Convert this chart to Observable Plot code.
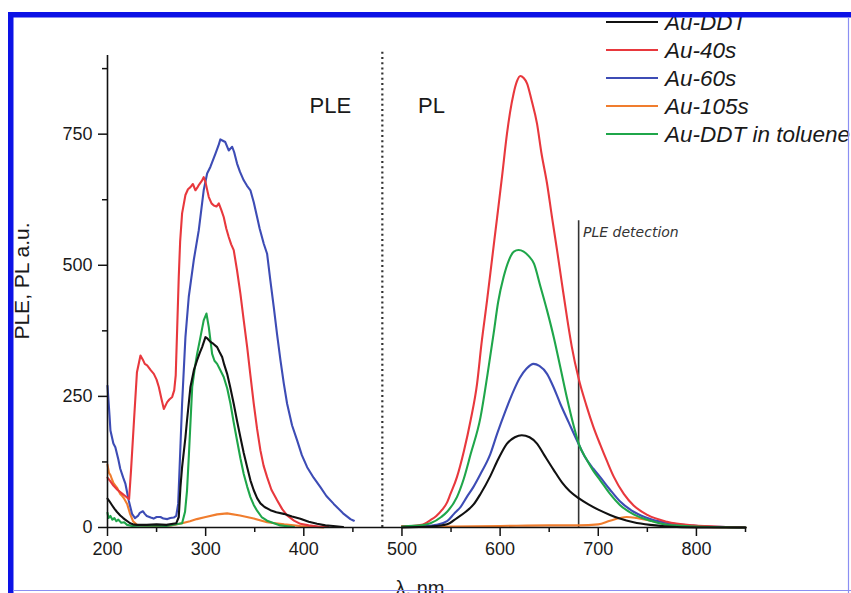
<!DOCTYPE html>
<html><head><meta charset="utf-8">
<script src="https://cdn.jsdelivr.net/npm/d3@7"></script>
<script src="https://cdn.jsdelivr.net/npm/@observablehq/plot@0.6"></script>
<style>
body{margin:0;background:#fff;}
#chart{position:relative;width:851px;height:593px;overflow:hidden;background:#fff}
</style>
</head><body><div id="chart"></div>
<script>
// ---------- categories ----------
const seriesNames = ["Au-DDT", "Au-40s", "Au-60s", "Au-105s", "Au-DDT in toluene"];
const seriesColors = ["#111111", "#e8383d", "#3d4cb5", "#f07d2e", "#1fa64a"];

// ---------- tick labels ----------
const xMajor = [200, 300, 400, 500, 600, 700, 800];
const xMinor = [250, 350, 450, 550, 650, 750, 850];
const yMajor = [0, 250, 500, 750];
const yMinor = [125, 375, 625, 875];

// ---------- series values: [wavelength nm, intensity a.u.] ----------
// PLE (excitation) spectra
const auDDT_PLE = [[200,55],[202,50],[204.8,42],[207,36],[209.5,30],[213,23],[216,18],[218,15],[221,11],[223,8],[226,6],[230,5],[240,5],[250,6],[260,5],[270,8],[272.6,20],[274.3,77],[276,115],[279.4,172],[281,204],[284.5,268],[288,300],[291.3,319],[294,333],[296.4,344],[299.8,363],[302,360],[304.9,354],[308,350],[311.7,344],[314,335],[316.8,325],[319,310],[321.9,293],[325,268],[328.6,236],[332,203],[335.4,172],[338.8,142],[342.3,115],[345.6,90],[349,71],[352.4,56],[355.8,46],[360,39],[366,33],[372,29],[379.5,26],[388,21],[396.5,16.5],[405,11],[413.5,7],[422,4],[430,3],[440,1]];
const au40_PLE = [[200,95],[203,88],[206,80],[210,72],[214,66],[218,60],[222,54],[224,110],[227,204],[230,296],[233.6,328],[236,320],[238,312],[240.4,309],[244,300],[247.2,293],[250,282],[252.3,268],[255,245],[257.4,226],[260.8,239],[263,244],[265.9,249],[268,262],[269.5,290],[271,380],[272.6,478],[274,545],[276,599],[279.4,634],[282,645],[284.5,649],[287,655],[289.6,643],[291.5,648],[293,653],[296.4,662],[298,668],[299.8,659],[302,640],[303.2,630],[306,618],[308.3,614],[311,612],[313.4,618],[316,605],[318.4,592],[321,570],[323.5,554],[326,540],[328.6,529],[332,490],[335.4,446],[338.8,395],[342.3,344],[345.6,290],[349,236],[352.4,188],[355.8,147],[359,118],[362.6,96],[367,72],[372.8,52],[378,35],[383,23],[390,13],[396.5,7],[405,4],[415,2],[425,1]];
const au60_PLE = [[200,270],[202,215],[203,185],[206,160],[208,153],[211,130],[213,112],[216,95],[218.3,83],[221.7,51],[225,26],[228,18],[231,22],[233,28],[236,31],[238,26],[240,22],[244,19],[247,17],[250,20],[254,20],[257,17],[261,16],[264,18],[267.5,19],[270,22],[272,45],[274,140],[276,236],[279.4,363],[282.8,440],[287.9,510],[293,567],[298,643],[301.5,675],[304.9,688],[310,713],[313,728],[315,740],[317,738],[320,735],[323.5,719],[327,726],[329,716],[332,694],[335,678],[338.8,662],[342,652],[345.6,643],[349,620],[352.4,592],[355,570],[359.2,541],[362.6,522],[366,470],[369.4,420],[372.8,368],[376.2,319],[379.6,275],[383,236],[388,195],[393.2,166],[398,138],[403.4,115],[410,95],[416.9,77],[423,60],[430.5,45],[440,27],[447.5,16],[451,13]];
const au105_PLE = [[200,120],[201.5,104],[203,100],[204.5,92],[206,85],[208,80],[210,75],[213,64],[215,60],[217,55],[220,45],[223,26],[226,12],[230,5],[235,4],[250,3],[265,4],[276,8],[284,12],[291,16],[300,20],[311.7,25],[321.9,27],[335,23],[349,17],[362.6,10],[380,6],[396.5,3],[420,0]];
const auTol_PLE = [[200,28],[201,18],[203,22],[205,15],[207,18],[209,12],[211,15],[214,9],[217,10],[220,5],[225,3],[240,4],[260,3],[276,8],[279,30],[281,70],[283,141],[286.3,268],[289,305],[291.3,331],[294.7,363],[298,395],[300.8,408],[303.2,382],[306.6,331],[309,318],[311.7,312],[315,300],[318.4,287],[322,265],[325.3,236],[328.6,200],[332,166],[335.4,132],[338.8,102],[342.3,78],[345.6,58],[349,43],[352.4,32],[357,20],[362.6,13],[376,4],[390,1]];

// PL (emission) spectra
const auDDT_PL = [[500,0],[530,2],[546,6],[556,18],[565,30],[573,44],[580,64],[590,98],[598,130],[607,160],[615,172],[622,176],[630,172],[637.6,160],[645,138],[654.5,110],[663,86],[671,69],[680,56],[690,44],[700,34],[712,24],[722,17],[736,10],[753,5],[770,2],[800,0],[850,0]];
const au40_PL = [[500,3],[510,3],[520,5],[529,14],[535,22],[541,34],[546,48],[549,62],[556,96],[563,145],[570,205],[576.5,274],[581,350],[586.7,433],[592,515],[597,592],[602,670],[607,751],[610,790],[613.8,828],[617,850],[620.6,861],[624,857],[627.4,847],[632,815],[637.6,770],[642,715],[647.8,656],[653,590],[658,529],[663,465],[668.1,401],[673,345],[680,284],[688,232],[695,192],[702,158],[709,126],[716,96],[726,64],[736,42],[750,24],[770,11],[797,4],[830,1],[850,0]];
const au60_PL = [[500,1],[520,2],[535,5],[546,12],[553,26],[560,40],[566,58],[573,78],[580,102],[590,140],[597,179],[605,220],[613.8,261],[620,285],[627,303],[634,312],[640,308],[647.8,293],[655,265],[661.3,236],[670,200],[678.3,166],[686,136],[695,112],[702,96],[712,72],[722,50],[736,30],[753,16],[777,7],[802,3],[830,1],[850,0]];
const au105_PL = [[500,1],[550,2],[600,3],[650,4],[680,4],[700,6],[712,13],[722,18],[729,20],[739,18],[753,13],[770,7],[785,3],[810,1],[850,0]];
const auTol_PL = [[500,2],[520,4],[529,8],[540,20],[546,30],[556,58],[563,93],[570,140],[580,210],[587,290],[593.4,370],[598,430],[603.6,478],[609,510],[614,526],[618.8,529],[624,526],[629,518],[634.5,503],[641,460],[647.8,414],[655,360],[661.3,306],[668,248],[674.8,195],[680,160],[688,130],[695,108],[702,90],[712,64],[722,43],[736,25],[753,13],[770,5],[800,2],[850,0]];

const seriesData = {
  "Au-DDT": [auDDT_PLE, auDDT_PL],
  "Au-40s": [au40_PLE, au40_PL],
  "Au-60s": [au60_PLE, au60_PL],
  "Au-105s": [au105_PLE, au105_PL],
  "Au-DDT in toluene": [auTol_PLE, auTol_PL]
};
const drawOrder = ["Au-105s", "Au-60s", "Au-40s", "Au-DDT in toluene", "Au-DDT"];

const pleRows = [], plRows = [];
for (const name of drawOrder) {
  const [ple, pl] = seriesData[name];
  for (const [x, y] of ple) pleRows.push({series: name, x, y});
  for (const [x, y] of pl) plRows.push({series: name, x, y});
}

// annotations (region labels)
const regionLabels = [{text: "PLE", x: 427, y: 804}, {text: "PL", x: 530, y: 804}];
const detectionLabel = [{text: "PLE detection", x: 684.5, y: 562}];
const separatorNm = [480];
const detectionNm = [680];

const plot = Plot.plot({
  width: 851, height: 593,
  marginLeft: 107, marginRight: 106, marginTop: 55, marginBottom: 66,
  x: {domain: [200, 850]},
  y: {domain: [0, 900]},
  color: {domain: seriesNames, range: seriesColors},
  style: {fontFamily: "'Liberation Sans', Arial, sans-serif", fontSize: "18px", color: "#1a1a1a", background: "white", overflow: "visible"},
  marks: [
    Plot.ruleX(separatorNm, {y1: 0, y2: 910, stroke: "#333", strokeWidth: 2.2, strokeDasharray: "2,3.2"}),
    Plot.ruleX(detectionNm, {y1: 0, y2: 585, stroke: "#333", strokeWidth: 1.6}),
    Plot.line(pleRows, {x: "x", y: "y", z: "series", stroke: "series", strokeWidth: 2.1, curve: "linear"}),
    Plot.line(plRows, {x: "x", y: "y", z: "series", stroke: "series", strokeWidth: 2.1, curve: "monotone-x"}),
    Plot.axisX({ticks: xMajor, tickSize: 9, tickPadding: 6, label: null, strokeWidth: 1.5, stroke: "#111"}),
    Plot.axisX({ticks: xMinor, tickSize: 5, tickFormat: () => "", label: null, strokeWidth: 1.5, stroke: "#111"}),
    Plot.axisY({ticks: yMajor, tickSize: 9, tickPadding: 6, label: null, strokeWidth: 1.5, stroke: "#111"}),
    Plot.axisY({ticks: yMinor, tickSize: 5, tickFormat: () => "", label: null, strokeWidth: 1.5, stroke: "#111"}),
    Plot.ruleY([0], {stroke: "#111", strokeWidth: 1.6}),
    Plot.ruleX([200], {y1: 0, y2: 900, stroke: "#111", strokeWidth: 1.6}),
    Plot.text(regionLabels, {x: "x", y: "y", text: "text", fontSize: 22, textAnchor: "middle", fill: "#1a1a1a"}),
    Plot.text(detectionLabel, {x: "x", y: "y", text: "text", fontSize: 14, textAnchor: "start", fontStyle: "italic", fontFamily: "'DejaVu Sans', Verdana, sans-serif", fill: "#333"})
  ]
});

document.getElementById("chart").appendChild(plot);
const svg = d3.select(plot);

// axis titles
svg.append("text").attr("transform", "translate(29,281) rotate(-90)")
  .attr("text-anchor", "middle").attr("font-size", 21).attr("fill", "#1a1a1a").text("PLE, PL a.u.");
svg.append("text").attr("x", 420).attr("y", 595)
  .attr("text-anchor", "middle").attr("font-size", 20).attr("fill", "#1a1a1a").text("λ, nm");

// legend
const lg = svg.append("g").attr("text-anchor", "start");
seriesNames.forEach((name, i) => {
  const y = 22 + 28 * i;
  lg.append("line").attr("x1", 606).attr("x2", 658).attr("y1", y).attr("y2", y)
    .attr("stroke", seriesColors[i]).attr("stroke-width", 2.2);
  lg.append("text").attr("x", 665).attr("y", y + 8).attr("font-size", 22.5)
    .attr("text-anchor", "start").attr("font-style", "italic").attr("fill", "#1a1a1a").text(name);
});

// page frame
svg.append("rect").attr("x", 0).attr("y", 0).attr("width", 851).attr("height", 12).attr("fill", "white");
svg.append("rect").attr("x", 0).attr("y", 0).attr("width", 8).attr("height", 593).attr("fill", "white");
svg.append("rect").attr("x", 8).attr("y", 12).attr("width", 843).attr("height", 5.5).attr("fill", "#0c12e6");
svg.append("rect").attr("x", 8).attr("y", 12).attr("width", 5.5).attr("height", 581).attr("fill", "#0c12e6");
svg.append("line").attr("x1", 848.5).attr("x2", 848.5).attr("y1", 17).attr("y2", 593).attr("stroke", "#8b8ff2").attr("stroke-width", 1.2);
svg.append("line").attr("x1", 13).attr("x2", 851).attr("y1", 590.5).attr("y2", 590.5).attr("stroke", "#8b8ff2").attr("stroke-width", 1.2);
</script>
</body></html>
